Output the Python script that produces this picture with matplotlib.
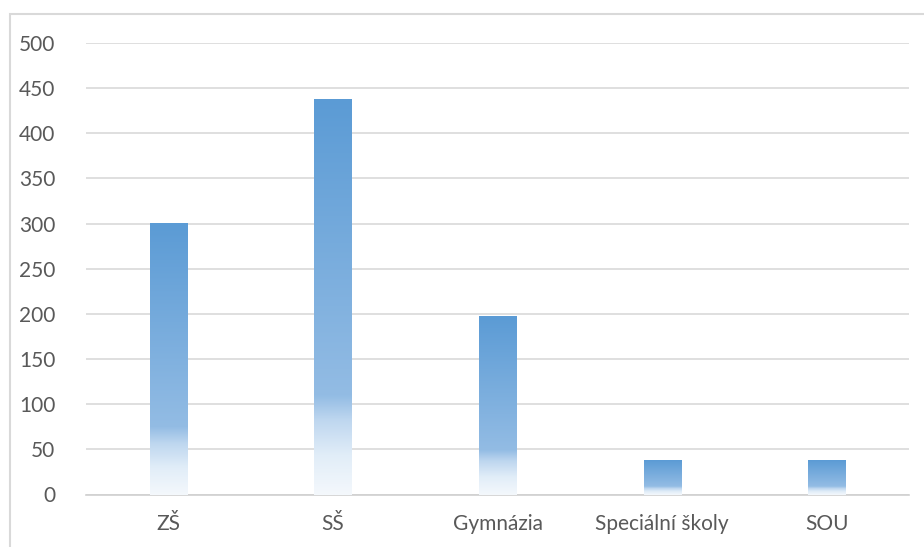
import matplotlib.pyplot as plt
import numpy as np
from matplotlib.colors import LinearSegmentedColormap
from matplotlib.patches import Rectangle

categories = ["ZŠ", "SŠ", "Gymnázia", "Speciální školy", "SOU"]
values = [301, 438, 198, 38, 38]
yticks = [0, 50, 100, 150, 200, 250, 300, 350, 400, 450, 500]

plt.rcParams['font.family'] = ['Lato', 'DejaVu Sans']

fig = plt.figure(figsize=(9.24, 5.47), dpi=100)
ax = fig.add_axes([86 / 924, 1 - 494.5 / 547, (909 - 86) / 924, (494.5 - 43) / 547])

# light gradient: blue at the top of each bar fading to white at the base
grad = LinearSegmentedColormap.from_list("bar_grad", [
    (0.0, "#F4F8FC"),
    (0.10, "#E1EDF8"),
    (0.19, "#BDD6EF"),
    (0.25, "#93BCE4"),
    (1.0, "#5B9BD5"),
])

x = np.arange(len(categories))
width = 0.225
bars = ax.bar(x, values, width=width, color="none", zorder=3)
g = np.linspace(0, 1, 256).reshape(-1, 1)
for b in bars:
    x0, y0 = b.get_x(), b.get_y()
    ax.imshow(g, cmap=grad, origin="lower", aspect="auto", zorder=3,
              extent=[x0, x0 + b.get_width(), y0, y0 + b.get_height()])

ax.set_xlim(-0.5, len(categories) - 0.5)
ax.set_ylim(0, 500)
ax.set_yticks(yticks)
ax.set_xticks(x)
ax.set_xticklabels(categories)
ax.yaxis.grid(True, color="#D9D9D9", linewidth=1.2, zorder=0)
ax.set_axisbelow(True)
for s in ["top", "right", "left"]:
    ax.spines[s].set_visible(False)
ax.spines["bottom"].set_color("#D0D0D0")
ax.spines["bottom"].set_linewidth(1.2)
ax.tick_params(axis="both", length=0, labelsize=15, labelcolor="#595959")
ax.tick_params(axis="y", pad=22)
ax.tick_params(axis="x", pad=14)

# chart area border
fig.patches.append(Rectangle((10 / 924, -0.1), 1.2, 1.1 - 14 / 547,
                             transform=fig.transFigure, fill=False,
                             edgecolor="#D9D9D9", linewidth=1.5))

fig.savefig("out.png", dpi=100)
